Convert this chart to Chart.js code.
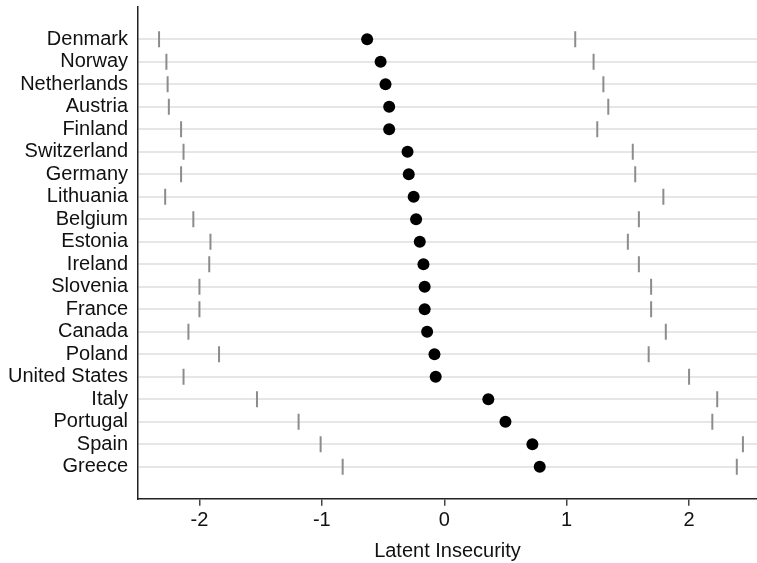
<!DOCTYPE html>
<html lang="en">
    <head>
        <meta charset="utf-8" />
        <script src="https://cdn.jsdelivr.net/npm/chart.js@4.4.1/dist/chart.umd.min.js"></script>
        <title>Latent Insecurity</title>
        <style>
            html, body { margin: 0; padding: 0; background: #fff; }
            #wrap { width: 757px; height: 563px; }
        </style>
    </head>
    <body>
        <div id="wrap"><canvas id="dots"></canvas></div>
        <script>
            // countries top to bottom
            const countries = ["Denmark", "Norway", "Netherlands", "Austria", "Finland", "Switzerland", "Germany",
                "Lithuania", "Belgium", "Estonia", "Ireland", "Slovenia", "France", "Canada", "Poland",
                "United States", "Italy", "Portugal", "Spain", "Greece"];
            // point estimate (black dot)
            const means = [-0.63, -0.52, -0.48, -0.45, -0.45, -0.30, -0.29, -0.25, -0.23, -0.20, -0.17,
                -0.16, -0.16, -0.14, -0.08, -0.07, 0.36, 0.50, 0.72, 0.78];
            // lower and upper bounds (grey ticks)
            const lower = [-2.33, -2.27, -2.26, -2.25, -2.15, -2.13, -2.15, -2.28, -2.05, -1.91, -1.92,
                -2.00, -2.00, -2.09, -1.84, -2.13, -1.53, -1.19, -1.01, -0.83];
            const upper = [1.07, 1.22, 1.30, 1.34, 1.25, 1.54, 1.56, 1.79, 1.59, 1.50, 1.59,
                1.69, 1.69, 1.81, 1.67, 2.00, 2.23, 2.19, 2.44, 2.39];
            const xTicks = [-2, -1, 0, 1, 2];

            const pts = arr => arr.map((v, i) => ({x: v, y: i}));
            const fnt = {family: "'Liberation Sans', Arial, Helvetica, sans-serif", size: 20};
            const boundStyle = {
                type: "scatter", pointStyle: "line", rotation: 90, pointRadius: 8,
                borderColor: "#8c8c8c", backgroundColor: "#8c8c8c", borderWidth: 2
            };
            // drop the label overhang padding chart.js adds, so the plot fills the canvas like the original
            const noPad = s => { s.paddingTop = 0; s.paddingBottom = 0; s.paddingLeft = 0; s.paddingRight = 0; };

            new Chart(document.getElementById("dots"), {
                type: "scatter",
                data: {
                    datasets: [
                        {label: "Estimate", data: pts(means), pointRadius: 6, backgroundColor: "#000", borderColor: "#000", borderWidth: 0},
                        Object.assign({label: "Lower", data: pts(lower)}, boundStyle),
                        Object.assign({label: "Upper", data: pts(upper)}, boundStyle)
                    ]
                },
                options: {
                    responsive: true,
                    maintainAspectRatio: false,
                    animation: false,
                    layout: {autoPadding: false, padding: {top: 7, right: 0, bottom: 0, left: 0}},
                    plugins: {legend: {display: false}, tooltip: {enabled: false}},
                    scales: {
                        x: {
                            min: -2.502, max: 2.555,
                            afterBuildTicks: s => { s.ticks = xTicks.map(v => ({value: v})); },
                            afterFit: s => { s.height = 64.3; noPad(s); },
                            grid: {drawOnChartArea: false, drawTicks: true, tickLength: 7, tickColor: "#444", lineWidth: 1.5},
                            border: {display: true, color: "#222", width: 1.5},
                            ticks: {color: "#111", font: fnt, padding: 3, maxRotation: 0},
                            title: {display: true, text: "Latent Insecurity", color: "#111", font: fnt, padding: {top: 0, bottom: 0}}
                        },
                        y: {
                            reverse: true,
                            min: -1.43, max: 20.42,
                            afterBuildTicks: s => { s.ticks = countries.map((c, i) => ({value: i})); },
                            afterFit: s => { s.width = 138; noPad(s); },
                            grid: {color: "#e6e6e6", lineWidth: 2, drawTicks: false},
                            border: {display: true, color: "#222", width: 1.5},
                            ticks: {
                                color: "#111", font: fnt, padding: 10, autoSkip: false,
                                callback: v => countries[v] ?? ""
                            }
                        }
                    }
                }
            });
        </script>
    </body>
</html>
